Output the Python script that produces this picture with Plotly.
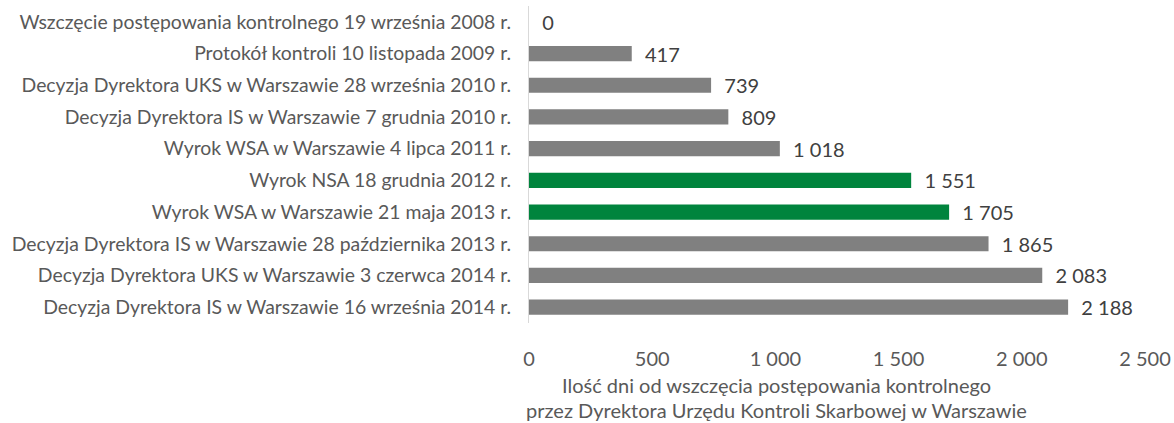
import plotly.graph_objects as go

categories = [
    "Wszczęcie postępowania kontrolnego 19 września 2008 r.",
    "Protokół kontroli 10 listopada 2009 r.",
    "Decyzja Dyrektora UKS w Warszawie 28 września 2010 r.",
    "Decyzja Dyrektora IS w Warszawie 7 grudnia 2010 r.",
    "Wyrok WSA w Warszawie 4 lipca 2011 r.",
    "Wyrok NSA 18 grudnia 2012 r.",
    "Wyrok WSA w Warszawie 21 maja 2013 r.",
    "Decyzja Dyrektora IS w Warszawie 28 października 2013 r.",
    "Decyzja Dyrektora UKS w Warszawie 3 czerwca 2014 r.",
    "Decyzja Dyrektora IS w Warszawie 16 września 2014 r.",
]
days = [0, 417, 739, 809, 1018, 1551, 1705, 1865, 2083, 2188]
highlight = [False, False, False, False, False, True, True, False, False, False]
tick_vals = [0, 500, 1000, 1500, 2000, 2500]
tick_text = ["0", "500", "1\u00a0000", "1\u00a0500", "2\u00a0000", "2\u00a0500"]
axis_title_lines = [
    "Ilość dni od wszczęcia postępowania kontrolnego",
    "przez Dyrektora Urzędu Kontroli Skarbowej w Warszawie",
]

GRAY = "#808080"
GREEN = "#00843D"
FONT = "Lato, Calibri, Carlito, sans-serif"
FS = 20

labels = ["\u00a0\u00a0" + f"{v:,}".replace(",", "\u00a0") for v in days]
colors = [GREEN if h else GRAY for h in highlight]

fig = go.Figure(go.Bar(
    x=days, y=categories, orientation="h",
    marker=dict(color=colors, line=dict(width=0)),
    text=labels, textposition="outside", cliponaxis=False,
    constraintext="none",
    textfont=dict(family=FONT, size=FS, color="#404040"),
    hoverinfo="skip",
))

fig.update_layout(
    width=1174, height=423,
    margin=dict(l=529, r=29, t=6, b=100, autoexpand=False),
    paper_bgcolor="white", plot_bgcolor="white",
    bargap=0.52, showlegend=False,
    font=dict(family=FONT, size=FS, color="#595959"),
)
fig.update_xaxes(
    range=[0, 2500], tickvals=tick_vals, ticktext=tick_text,
    showgrid=False, zeroline=False, showline=False,
    ticks="outside", ticklen=18, tickcolor="rgba(0,0,0,0)",
    tickfont=dict(family=FONT, size=FS, color="#595959"),
)
fig.update_yaxes(
    autorange="reversed", showgrid=False, zeroline=False,
    showline=True, linecolor="#d9d9d9", linewidth=1,
    ticks="outside", ticklen=13, tickcolor="rgba(0,0,0,0)",
    tickfont=dict(family=FONT, size=19.4, color="#595959"),
)
plot_h = 423 - 6 - 100
for i, line in enumerate(axis_title_lines):
    fig.add_annotation(
        text=line, xref="paper", yref="paper",
        x=(776 - 529) / 616, y=-(385 + 25 * i - 323) / plot_h,
        xanchor="center", yanchor="middle",
        showarrow=False, align="center",
        font=dict(family=FONT, size=FS, color="#595959"),
    )

fig.write_html("out.html", config={"displayModeBar": False},
               post_script="document.body.style.margin='0px';")
